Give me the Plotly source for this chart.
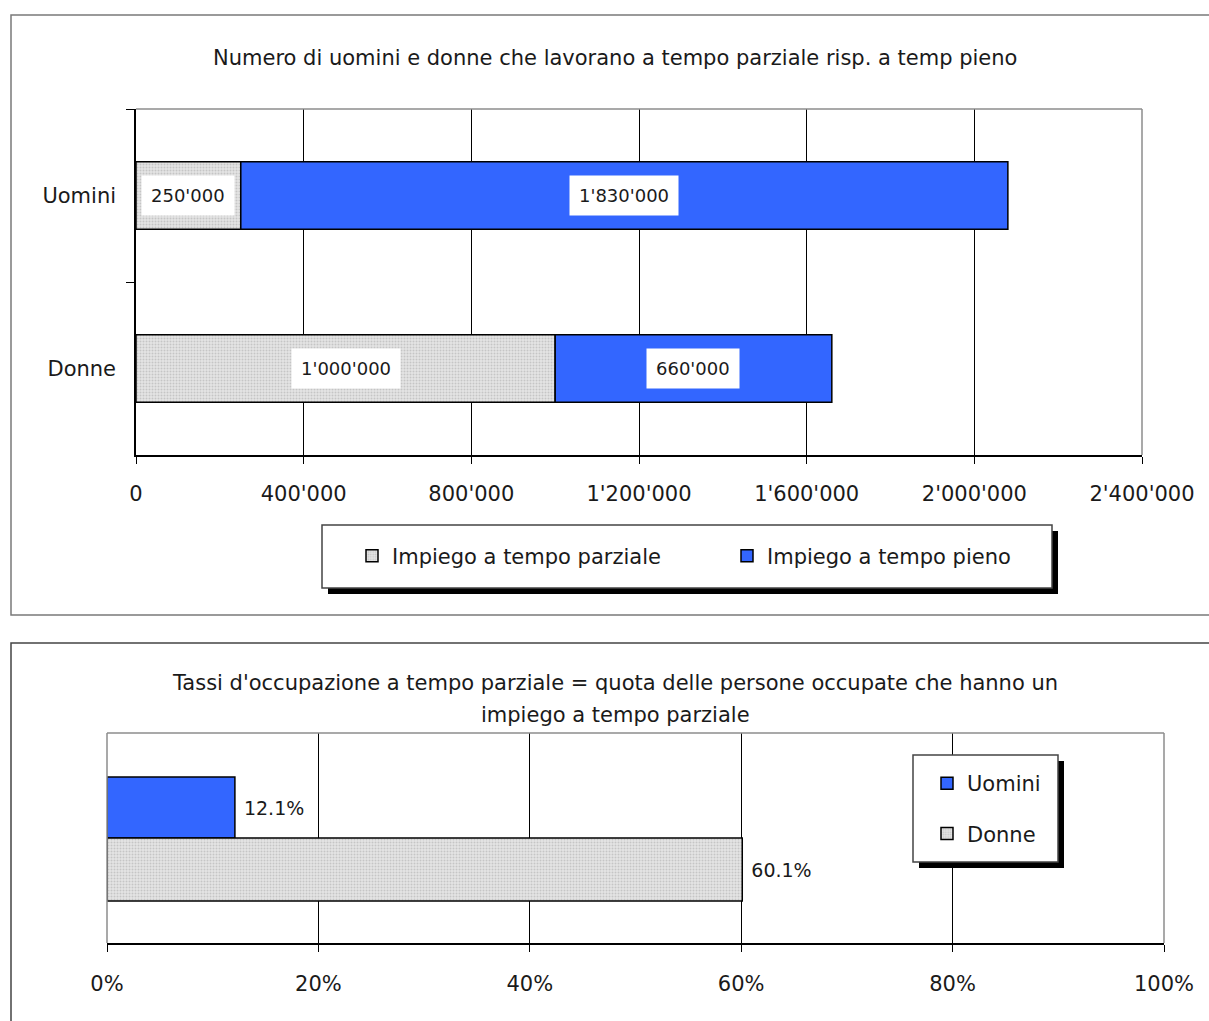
import plotly.graph_objects as go

W, H = 1209, 1021

# ---------------- data: top chart ----------------
categorie = ["Uomini", "Donne"]
serie_top = ["Impiego a tempo parziale", "Impiego a tempo pieno"]
tempo_parziale = [250000, 1000000]
tempo_pieno = [1830000, 660000]
x_tickvals = [0, 400000, 800000, 1200000, 1600000, 2000000, 2400000]
x_ticktext = ["0", "400'000", "800'000", "1'200'000", "1'600'000", "2'000'000", "2'400'000"]
titolo_top = "Numero di uomini e donne che lavorano a tempo parziale risp. a temp pieno"

# ---------------- data: bottom chart ----------------
serie_bottom = ["Uomini", "Donne"]
categoria_bottom = ["Quota"]
quota_uomini = [12.1]
quota_donne = [60.1]
pct_tickvals = [0, 20, 40, 60, 80, 100]
pct_ticktext = ["0%", "20%", "40%", "60%", "80%", "100%"]
titolo_bottom_righe = ["Tassi d'occupazione a tempo parziale = quota delle persone occupate che hanno un",
                       "impiego a tempo parziale"]

FONT = "DejaVu Sans"
TXT = "#1a1a1a"
BLUE = "#3366FF"
GRAY_PATTERN = dict(shape=".", fgcolor="#a6a6a6", bgcolor="#e4e4e4", size=3, solidity=0.35)


def px(x):
    return x / W


def py(y):
    return 1 - y / H


def fmt(v):
    return f"{v:,}".replace(",", "'")


fig = go.Figure()

# top chart bars (stacked via base)
fig.add_trace(go.Bar(
    y=categorie, x=tempo_parziale, orientation="h", name=serie_top[0],
    marker=dict(color="#e4e4e4", pattern=GRAY_PATTERN, line=dict(color="black", width=1.5)),
    width=0.39, xaxis="x", yaxis="y", legend="legend", hoverinfo="x+y",
))
fig.add_trace(go.Bar(
    y=categorie, x=tempo_pieno, base=tempo_parziale, orientation="h", name=serie_top[1],
    marker=dict(color=BLUE, line=dict(color="black", width=1.5)),
    width=0.39, xaxis="x", yaxis="y", legend="legend", hoverinfo="x+y",
))

# bottom chart bars
fig.add_trace(go.Bar(
    y=categoria_bottom, x=quota_uomini, orientation="h", name=serie_bottom[0],
    marker=dict(color=BLUE, line=dict(color="black", width=1.5)),
    width=0.29, offset=0.0, xaxis="x2", yaxis="y2", legend="legend2", legendgroup="u",
    texttemplate=" %{x:.1f}%", textposition="outside", cliponaxis=False,
    textfont=dict(family=FONT, size=19, color=TXT),
))
fig.add_trace(go.Bar(
    y=categoria_bottom, x=quota_donne, orientation="h", name=serie_bottom[1],
    marker=dict(color="#e4e4e4", pattern=GRAY_PATTERN, line=dict(color="black", width=1.5)),
    width=0.30, offset=-0.30, xaxis="x2", yaxis="y2", legend="legend2", legendgroup="d",
    texttemplate=" %{x:.1f}%", textposition="outside", cliponaxis=False,
    textfont=dict(family=FONT, size=19, color=TXT),
))

annotations = []
# data labels (white boxes) for top chart
for cat, p, f in zip(categorie, tempo_parziale, tempo_pieno):
    annotations.append(dict(x=p / 2, y=cat, xref="x", yref="y", text=fmt(p), showarrow=False,
                            xanchor="center", yanchor="middle",
                            bgcolor="white", borderpad=9, font=dict(family=FONT, size=18, color=TXT)))
    annotations.append(dict(x=p + f / 2, y=cat, xref="x", yref="y", text=fmt(f), showarrow=False,
                            xanchor="center", yanchor="middle",
                            bgcolor="white", borderpad=9, font=dict(family=FONT, size=18, color=TXT)))
# titles
annotations.append(dict(x=px(615), y=py(58), xref="paper", yref="paper", text=titolo_top,
                        xanchor="center", yanchor="middle",
                        showarrow=False, font=dict(family=FONT, size=21, color=TXT)))
for riga, yy in zip(titolo_bottom_righe, [683, 715]):
    annotations.append(dict(x=px(615), y=py(yy), xref="paper", yref="paper", text=riga,
                            xanchor="center", yanchor="middle",
                            showarrow=False, font=dict(family=FONT, size=21, color=TXT)))

shapes = []
# outer frames
shapes.append(dict(type="rect", xref="paper", yref="paper", x0=px(11), x1=px(1220), y0=py(15), y1=py(615),
                   line=dict(color="#7a7a7a", width=1.5), layer="below"))
shapes.append(dict(type="rect", xref="paper", yref="paper", x0=px(11), x1=px(1220), y0=py(643), y1=py(1030),
                   line=dict(color="#444444", width=1.5), layer="below"))
# plot area gray borders
PB = "#8c8c8c"
for xr, yr, x0, x1, y0, y1 in [
    ("x domain", "y domain", 0, 1, 1, 1),
    ("x domain", "y domain", 1, 1, 0, 1),
    ("x2 domain", "y2 domain", 0, 1, 1, 1),
    ("x2 domain", "y2 domain", 1, 1, 0, 1),
    ("x2 domain", "y2 domain", 0, 0, 0, 1),
]:
    shapes.append(dict(type="line", xref=xr, yref=yr, x0=x0, x1=x1, y0=y0, y1=y1,
                       line=dict(color=PB, width=1.5), layer="above"))
# legend boxes with shadows
for (x0, y0, x1, y1) in [(322, 525, 1052, 588), (913, 755, 1058, 862)]:
    shapes.append(dict(type="rect", xref="paper", yref="paper", x0=px(x0 + 6), x1=px(x1 + 6),
                       y0=py(y0 + 6), y1=py(y1 + 6), fillcolor="black", line=dict(width=0), layer="above"))
    shapes.append(dict(type="rect", xref="paper", yref="paper", x0=px(x0), x1=px(x1),
                       y0=py(y0), y1=py(y1), fillcolor="white", line=dict(color="#444444", width=1.5),
                       layer="above"))

axis_font = dict(family=FONT, size=21, color=TXT)

fig.update_layout(
    width=W, height=H,
    margin=dict(l=0, r=0, t=0, b=0, autoexpand=False),
    paper_bgcolor="white", plot_bgcolor="white",
    barmode="overlay",
    font=dict(family=FONT, color=TXT),
    annotations=annotations,
    shapes=shapes,
    xaxis=dict(domain=[px(136), px(1142)], range=[0, 2400000], tickvals=x_tickvals, ticktext=x_ticktext,
               showgrid=True, gridcolor="black", gridwidth=1, zeroline=False,
               showline=True, linecolor="black", linewidth=1.5,
               ticks="outside", ticklen=7, tickcolor="black", tickwidth=1, automargin=False,
               tickfont=axis_font, ticklabelstandoff=12, anchor="y", fixedrange=True),
    yaxis=dict(domain=[py(455), py(109)], type="category", categoryorder="array", categoryarray=categorie,
               autorange="reversed", tickson="boundaries", ticks="outside", ticklen=8, tickcolor="black",
               showline=True, linecolor="black", linewidth=1.5, showgrid=False, zeroline=False,
               automargin=False,
               tickfont=axis_font, ticklabelstandoff=14, anchor="x", fixedrange=True),
    xaxis2=dict(domain=[px(107), px(1164)], range=[0, 100], tickvals=pct_tickvals, ticktext=pct_ticktext,
                showgrid=True, gridcolor="black", gridwidth=1, zeroline=False,
                showline=True, linecolor="black", linewidth=1.5, automargin=False,
                ticks="outside", ticklen=7, tickcolor="black", tickwidth=1,
                tickfont=axis_font, ticklabelstandoff=14, anchor="y2", fixedrange=True),
    yaxis2=dict(domain=[py(943), py(733)], range=[-0.5, 0.5], showticklabels=False, showline=False,
                showgrid=False, zeroline=False, ticks="", anchor="x2", fixedrange=True, automargin=False),
    legend=dict(orientation="h", x=px(352), y=py(556), xanchor="left", yanchor="middle",
                bgcolor="rgba(0,0,0,0)", borderwidth=0, font=dict(family=FONT, size=21, color=TXT),
                entrywidth=330, entrywidthmode="pixels"),
    legend2=dict(orientation="v", x=px(927), y=py(763), xanchor="left", yanchor="top",
                 bgcolor="rgba(0,0,0,0)", borderwidth=0, font=dict(family=FONT, size=21, color=TXT),
                 traceorder="grouped", tracegroupgap=20),
    showlegend=True,
)

fig.write_html("out.html")
